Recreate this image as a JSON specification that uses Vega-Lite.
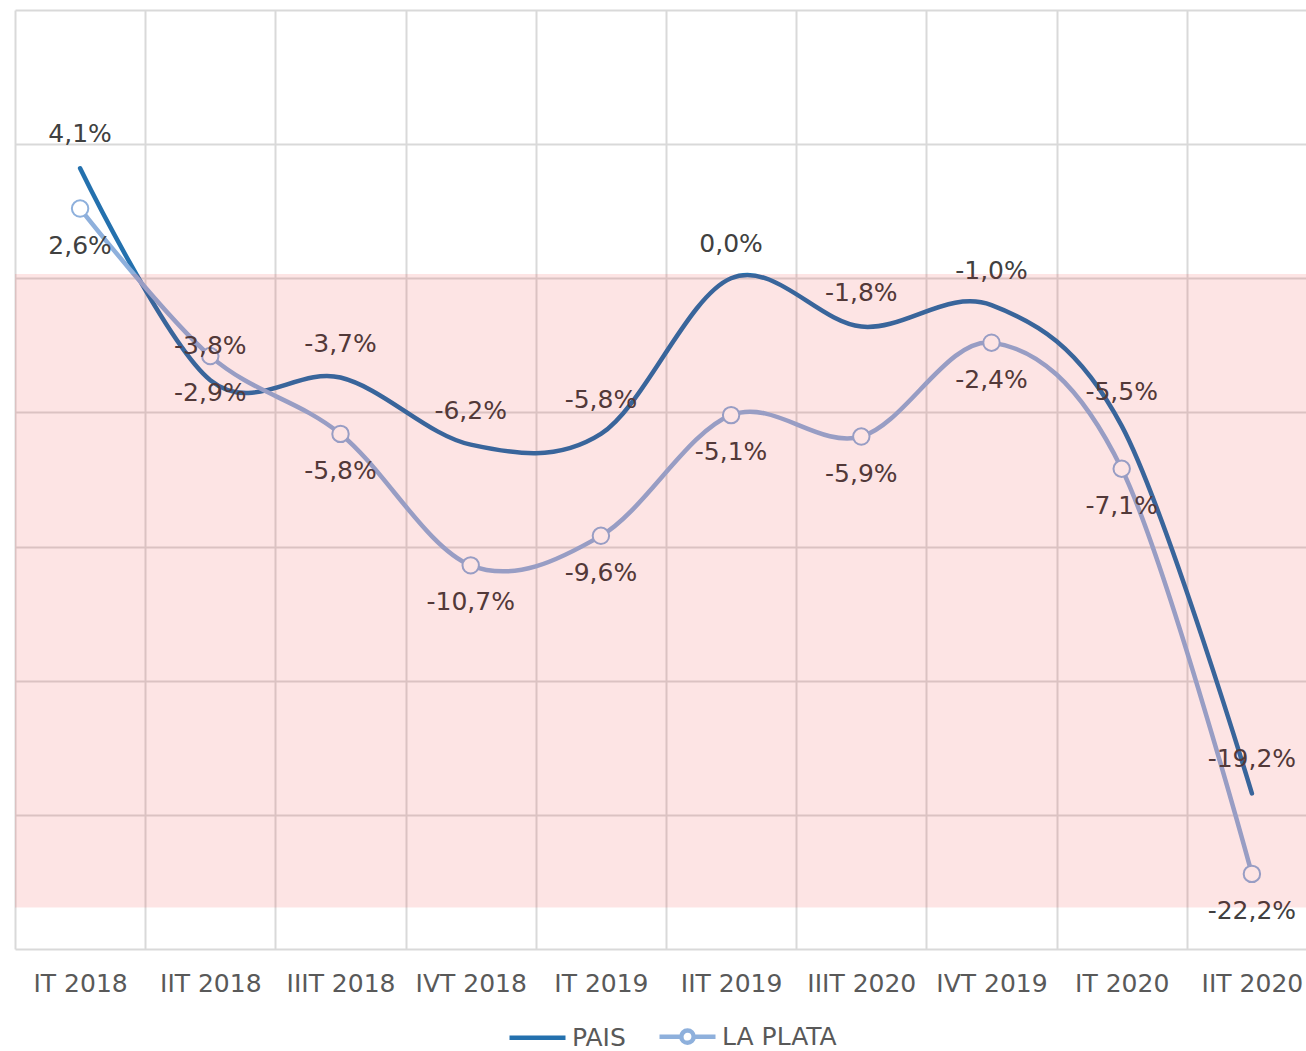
{
  "$schema": "https://vega.github.io/schema/vega-lite/v6.json",
  "autosize": {"type": "none"},
  "width": 1302,
  "height": 939,
  "padding": {"top": 10, "left": 15, "right": 0, "bottom": 102},
  "background": "white",
  "config": {
    "font": "DejaVu Sans",
    "view": {"stroke": null},
    "locale": {"number": {"decimal": ",", "thousands": ".", "grouping": [3], "currency": ["", " €"], "minus": "-"}}
  },
  "datasets": {
    "series": [
      {"q": "IT 2018", "n": 1, "s": "PAIS", "v": 0.041},
      {"q": "IIT 2018", "n": 2, "s": "PAIS", "v": -0.038},
      {"q": "IIIT 2018", "n": 3, "s": "PAIS", "v": -0.037},
      {"q": "IVT 2018", "n": 4, "s": "PAIS", "v": -0.062},
      {"q": "IT 2019", "n": 5, "s": "PAIS", "v": -0.058},
      {"q": "IIT 2019", "n": 6, "s": "PAIS", "v": 0.0},
      {"q": "IIIT 2020", "n": 7, "s": "PAIS", "v": -0.018},
      {"q": "IVT 2019", "n": 8, "s": "PAIS", "v": -0.010},
      {"q": "IT 2020", "n": 9, "s": "PAIS", "v": -0.055},
      {"q": "IIT 2020", "n": 10, "s": "PAIS", "v": -0.192},
      {"q": "IT 2018", "n": 1, "s": "LA PLATA", "v": 0.026},
      {"q": "IIT 2018", "n": 2, "s": "LA PLATA", "v": -0.029},
      {"q": "IIIT 2018", "n": 3, "s": "LA PLATA", "v": -0.058},
      {"q": "IVT 2018", "n": 4, "s": "LA PLATA", "v": -0.107},
      {"q": "IT 2019", "n": 5, "s": "LA PLATA", "v": -0.096},
      {"q": "IIT 2019", "n": 6, "s": "LA PLATA", "v": -0.051},
      {"q": "IIIT 2020", "n": 7, "s": "LA PLATA", "v": -0.059},
      {"q": "IVT 2019", "n": 8, "s": "LA PLATA", "v": -0.024},
      {"q": "IT 2020", "n": 9, "s": "LA PLATA", "v": -0.071},
      {"q": "IIT 2020", "n": 10, "s": "LA PLATA", "v": -0.222}
    ],
    "band": [{"top": 0.0016, "bottom": -0.2345}]
  },
  "data": {"name": "series"},
  "encoding": {
    "x": {
      "field": "q", "type": "ordinal",
      "sort": ["IT 2018", "IIT 2018", "IIIT 2018", "IVT 2018", "IT 2019", "IIT 2019", "IIIT 2020", "IVT 2019", "IT 2020", "IIT 2020"],
      "scale": {"type": "band", "paddingInner": 0, "paddingOuter": 0},
      "axis": {
        "title": null, "labelAngle": 0, "tickBand": "extent", "grid": true,
        "gridColor": "#d9d9d9", "gridWidth": 2, "ticks": false, "domain": false,
        "labelFont": "DejaVu Sans", "labelFontSize": 25, "labelColor": "#595959",
        "labelPadding": 22
      }
    },
    "y": {
      "field": "v", "type": "quantitative",
      "scale": {"domain": [-0.25, 0.1], "nice": false, "zero": false},
      "axis": {
        "title": null, "values": [-0.25, -0.2, -0.15, -0.1, -0.05, 0, 0.05, 0.1],
        "grid": true, "gridColor": "#d9d9d9", "gridWidth": 2,
        "labels": false, "ticks": false, "domain": false, "minExtent": 0, "maxExtent": 0
      }
    }
  },
  "layer": [
    {
      "mark": {"type": "line", "interpolate": "cardinal", "strokeWidth": 4.5, "strokeCap": "round"},
      "encoding": {
        "order": {"field": "n", "type": "quantitative"},
        "color": {
          "field": "s", "type": "nominal",
          "scale": {"domain": ["PAIS", "LA PLATA"], "range": ["#2471ae", "#8eb0dc"]},
          "legend": {
            "title": null, "orient": "none", "direction": "horizontal",
            "legendX": 492, "legendY": 1010,
            "symbolSize": 784, "symbolStrokeWidth": 4.5,
            "labelFont": "DejaVu Sans", "labelFontSize": 25, "labelColor": "#595959",
            "labelOffset": 32, "columnPadding": 24,
            "encode": {
              "symbols": {
                "update": {
                  "shape": {"signal": "datum.value === 'LA PLATA' ? 'M-1,0H0.56A0.44,0.44 0 1,1 1.44,0A0.44,0.44 0 1,1 0.56,0M1.44,0H3' : 'M-1,0H3'"},
                  "fill": {"value": "white"},
                  "strokeWidth": {"value": 4.5}
                }
              }
            }
          }
        }
      }
    },
    {
      "transform": [{"filter": "datum.s === 'LA PLATA'"}],
      "mark": {"type": "point", "shape": "circle", "filled": true, "fill": "white", "stroke": "#8eb0dc", "strokeWidth": 2, "size": 270, "opacity": 1}
    },
    {
      "transform": [{"filter": "datum.s === 'PAIS'"}],
      "mark": {"type": "text", "dy": -34, "fontSize": 25, "font": "DejaVu Sans", "color": "#404040", "align": "center", "baseline": "middle"},
      "encoding": {"text": {"field": "v", "type": "quantitative", "format": ".1%"}}
    },
    {
      "transform": [{"filter": "datum.s === 'LA PLATA'"}],
      "mark": {"type": "text", "dy": 37, "fontSize": 25, "font": "DejaVu Sans", "color": "#404040", "align": "center", "baseline": "middle"},
      "encoding": {"text": {"field": "v", "type": "quantitative", "format": ".1%"}}
    },
    {
      "data": {"name": "band"},
      "mark": {"type": "rect", "color": "#f00000", "opacity": 0.105},
      "encoding": {
        "x": null,
        "y": {"field": "top", "type": "quantitative"},
        "y2": {"field": "bottom"}
      }
    }
  ]
}
